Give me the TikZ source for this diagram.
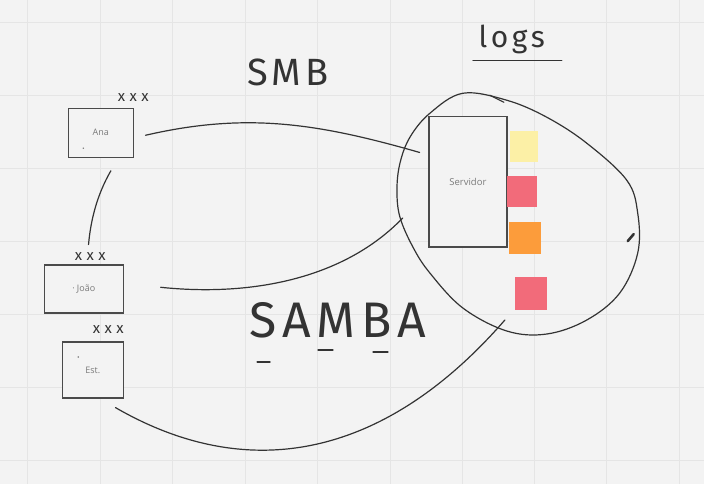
\documentclass[tikz,border=0pt]{standalone}
\usepackage{fontspec}
\setmainfont{Open Sans}
\newfontfamily\handfont{Fira Sans}
\newfontfamily\handwide{Fira Sans}[LetterSpace=30]
\newfontfamily\handtitle{Fira Sans}[LetterSpace=12]
\usetikzlibrary{calc, positioning}

\definecolor{board}{HTML}{F3F3F3}
\definecolor{gridline}{HTML}{E5E5E5}
\definecolor{ink}{HTML}{333333}
\definecolor{frame}{HTML}{4A4A4A}
\definecolor{labelgray}{HTML}{7A7A7A}
\definecolor{noteyellow}{HTML}{FCF0A6}
\definecolor{notered}{HTML}{F26B7A}
\definecolor{noteorange}{HTML}{FC9C3B}

\begin{document}
\begin{tikzpicture}[
    x=1pt, y=1pt,
    client/.style={rectangle, draw=frame, line width=1.3pt, fill=board, inner sep=0pt, text=labelgray, font=\fontsize{9}{11}\selectfont},
    server/.style={rectangle, draw=frame, line width=1.3pt, fill=board, inner sep=0pt, text=labelgray, font=\fontsize{9.5}{11}\selectfont, minimum width=78pt, minimum height=131pt},
    sticky/.style={rectangle, inner sep=0pt, minimum width=30pt, minimum height=31pt},
    hand/.style={draw=ink, line width=1.2pt, line cap=round, line join=round},
    handtext/.style={text=ink, inner sep=0pt, font=\handfont},
    xmark/.style={text=ink, inner sep=0pt, font=\handwide\fontsize{15}{15}\selectfont}
]

% Board
\fill[board] (0,0) rectangle (704,484);
\foreach \gx in {27,100,172,245,317,390,462,535,607,680}
    \draw[gridline, line width=0.7pt] (\gx,0) -- (\gx,484);
\foreach \gy in {24,97,170,243,316,389,462}
    \draw[gridline, line width=0.7pt] (0,\gy) -- (704,\gy);
\useasboundingbox (0,0) rectangle (704,484);

% Clients
\node (ana) [client, minimum width=65pt, minimum height=49pt] at (100.5,351.5) {Ana};
\node (joao) [client, minimum width=79pt, minimum height=48pt] at (83.5,195) {\textperiodcentered\ João};
\node (est) [client, minimum width=61pt, minimum height=56pt] at (92.5,114) {Est.};
\fill[labelgray] (83,336) circle (0.8pt);
\fill[labelgray] (78,127) circle (0.8pt);

\node (anaX) [xmark] at (133,387) {xxx};
\node (joaoX) [xmark] at (90,228) {xxx};
\node (estX) [xmark] at (108,154) {xxx};

% Server and logs
\node (servidor) [server] at (468,302.5) {Servidor};
\node (log1) [sticky, fill=noteyellow, minimum width=28pt] at (524,337.5) {};
\node (log2) [sticky, fill=notered] at (522.5,292.5) {};
\node (log3) [sticky, fill=noteorange, minimum width=32pt, minimum height=32pt] at (525,246) {};
\node (log4) [sticky, fill=notered, minimum width=32pt, minimum height=33pt] at (531,190.5) {};

% Loop round the server
\draw[hand] plot[smooth cycle, tension=0.6] coordinates {(463,391) (430,371) (410,347) (400,321) (397,294) (400,267) (413,237) (430,211) (463,176) (507,153) (547,150) (587,164) (620,191) (638,231) (638,271) (627,304) (587,341) (547,367) (507,384)};
\draw[hand] (490,389) -- (504,382);
\draw[ink, line width=2.6pt, line cap=round] (628,243) -- (634,250);

% Titles
\node (logs) [handtext, font=\handtitle\fontsize{30}{30}\selectfont] at (512,445) {logs};
\draw[hand] (473,424) -- (562,424);
\node (smb) [handtext, font=\handtitle\fontsize{38}{38}\selectfont] at (288,412) {SMB};
\node (samba) [handtext, font=\handtitle\fontsize{50}{50}\selectfont] at (338,164) {SAMBA};
\draw[hand] (257,122) -- (270,122);
\draw[hand] (318,134) -- (333,134);
\draw[hand] (373,132) -- (388,132);

% Connect clients to the server
\coordinate (sambaEnd) at (505,164);
\draw[hand, shorten <=12pt, shorten >=9pt] (ana.-9) to[out=13, in=164] (servidor.146);
\draw[hand, shorten <=15pt, shorten >=20pt] (ana.305) to[out=240, in=85] (joao.83);
\draw[hand, shorten <=37pt, shorten >=37pt] (joao.8) to[out=-6, in=226] (servidor.194);
\draw[hand, shorten <=18pt] (est.284) to[out=-30, in=229, looseness=1.1] (sambaEnd);

\end{tikzpicture}
\end{document}
